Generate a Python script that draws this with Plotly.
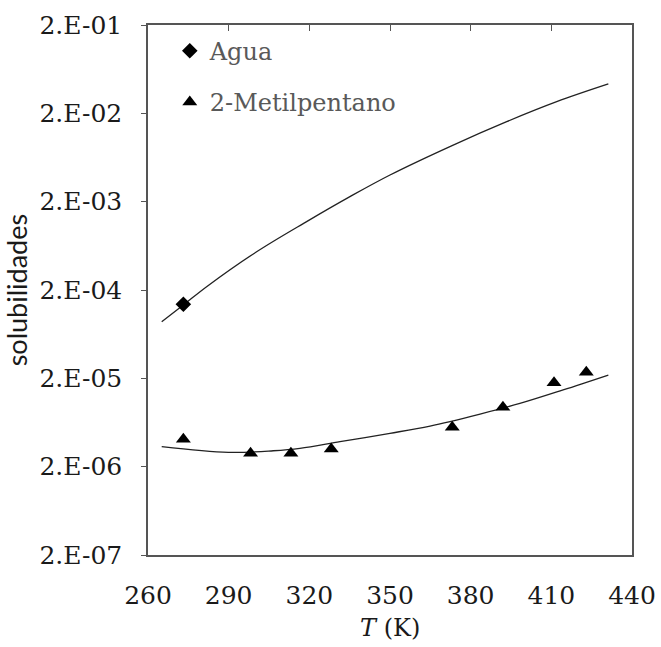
import plotly.graph_objects as go

# Data
agua_T = [273.15]
agua_s = [1.38e-4]

mp_T = [273.15, 298.15, 313.15, 328.15, 373.15, 392.0, 411.0, 423.0]
mp_s = [4.08e-6, 2.83e-6, 2.83e-6, 3.17e-6, 5.57e-6, 9.40e-6, 1.78e-5, 2.34e-5]

agua_curve_T = [265.1, 273.5, 281.8, 300.4, 319.0, 335.1, 350.0, 373.5, 393.4, 412.0, 431.2]
agua_curve_s = [8.75e-5, 1.38e-4, 2.18e-4, 5.42e-4, 1.19e-3, 2.28e-3, 4.01e-3, 8.75e-3, 1.61e-2, 2.71e-2, 4.30e-2]

mp_curve_T = [265.1, 289.9, 306.6, 316.5, 331.4, 350.0, 364.9, 383.5, 398.3, 414.4, 431.2]
mp_curve_s = [3.37e-6, 2.90e-6, 3.03e-6, 3.23e-6, 3.84e-6, 4.77e-6, 5.77e-6, 7.89e-6, 1.04e-5, 1.48e-5, 2.18e-5]

x_ticks = [260, 290, 320, 350, 380, 410, 440]
y_ticks = [2e-7, 2e-6, 2e-5, 2e-4, 2e-3, 2e-2, 2e-1]
y_ticktext = ["2.E-07", "2.E-06", "2.E-05", "2.E-04", "2.E-03", "2.E-02", "2.E-01"]

SERIF = "DejaVu Serif"
FRAME = "#555555"
TEXT = "#1a1a1a"

fig = go.Figure()

fig.add_trace(go.Scatter(x=agua_curve_T, y=agua_curve_s, mode="lines",
                         line=dict(color="#222222", width=1.3, shape="spline"),
                         showlegend=False, hoverinfo="skip"))
fig.add_trace(go.Scatter(x=mp_curve_T, y=mp_curve_s, mode="lines",
                         line=dict(color="#222222", width=1.3, shape="spline"),
                         showlegend=False, hoverinfo="skip"))
fig.add_trace(go.Scatter(x=agua_T, y=agua_s, mode="markers", name="Agua",
                         legendgroup="a",
                         marker=dict(symbol="diamond", size=12, color="black")))
fig.add_trace(go.Scatter(x=mp_T, y=mp_s, mode="markers", name="2-Metilpentano",
                         legendgroup="b",
                         marker=dict(symbol="triangle-up", size=13, color="black")))
# top axis carrying inward ticks
fig.add_trace(go.Scatter(x=x_ticks, y=y_ticks, xaxis="x2", mode="markers",
                         marker=dict(opacity=0), showlegend=False, hoverinfo="skip"))

fig.update_layout(
    width=661, height=647,
    margin=dict(l=148, r=29, t=25, b=92, autoexpand=False),
    paper_bgcolor="white", plot_bgcolor="white",
    font=dict(family=SERIF, size=24, color=TEXT),
    xaxis=dict(range=[260, 440], tickvals=x_ticks, ticks="", showline=True,
               linecolor=FRAME, linewidth=1.5, mirror=True, showgrid=False,
               zeroline=False, tickfont=dict(family=SERIF, size=25, color=TEXT),
               ticklabelstandoff=17, automargin=False),
    xaxis2=dict(range=[260, 440], overlaying="x", side="top", tickvals=x_ticks,
                ticks="inside", ticklen=6, tickcolor=FRAME, tickwidth=1.3,
                showticklabels=False, showgrid=False, zeroline=False, showline=False,
                automargin=False),
    yaxis=dict(type="log", range=[-6.69897, -0.69897], tickvals=y_ticks,
               ticktext=y_ticktext, ticks="outside", ticklen=5, tickcolor=FRAME,
               tickwidth=1.3, showline=True, linecolor=FRAME, linewidth=1.5,
               mirror=True, showgrid=False, zeroline=False,
               tickfont=dict(family=SERIF, size=25, color=TEXT),
               ticklabelstandoff=14, automargin=False),
    legend=dict(x=0.045, y=0.993, xanchor="left", yanchor="top",
                bgcolor="rgba(0,0,0,0)", traceorder="grouped", tracegroupgap=17,
                font=dict(family=SERIF, size=24, color="#595959")),
    showlegend=True,
)

fig.add_annotation(text="solubilidades", xref="paper", yref="paper",
                   x=-0.272, y=0.5, xanchor="center", yanchor="middle",
                   textangle=-90, showarrow=False,
                   font=dict(family="Lato", size=27, color=TEXT))
fig.add_annotation(text="<i>T</i> (K)", xref="paper", yref="paper",
                   x=0.5, y=-0.138, xanchor="center", yanchor="middle",
                   showarrow=False, font=dict(family=SERIF, size=24, color=TEXT))

fig.write_html("out.html")
